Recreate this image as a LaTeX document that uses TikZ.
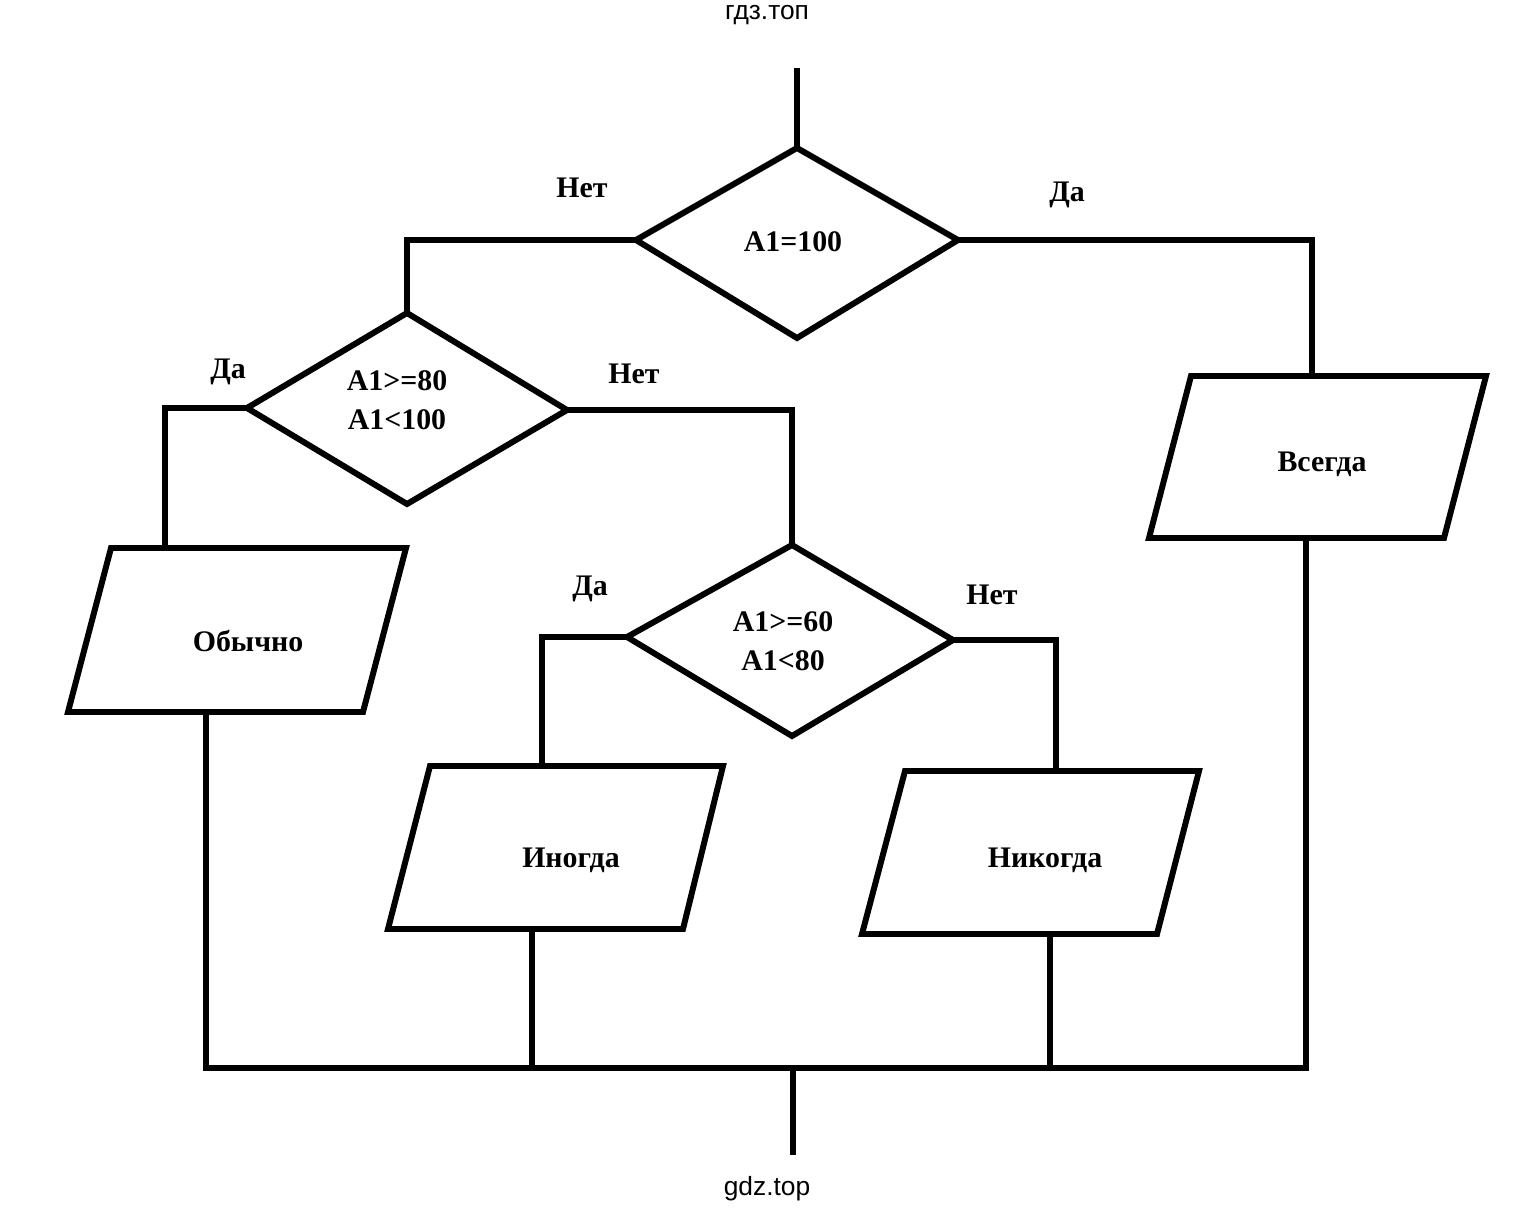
\documentclass[tikz,border=0pt]{standalone}
\usepackage{fontspec}
\setmainfont{Liberation Serif}
\newfontfamily\wm{Liberation Sans}
\begin{document}
\begin{tikzpicture}[x=0.02cm,y=-0.02cm,line width=3.4pt,line join=miter,
  lbl/.style={font=\bfseries\fontsize{17}{20}\selectfont,align=center,inner sep=0pt},
  wmk/.style={font=\wm\fontsize{15}{18}\selectfont,inner sep=0pt}]
\useasboundingbox (0,0) rectangle (1535,1214);
% diamond 1
\coordinate (d1t) at (797,148); \coordinate (d1l) at (636,240);
\coordinate (d1r) at (958,240); \coordinate (d1b) at (797,338);
\coordinate (start) at (797,68);
\draw (d1t)--(d1r)--(d1b)--(d1l)--cycle;
\node[lbl] (t1) at (793,242) {A1=100};
\draw (start)--(d1t);
% diamond 2
\coordinate (d2t) at (407,313); \coordinate (d2l) at (247,408);
\coordinate (d2r) at (567,410); \coordinate (d2b) at (407,504);
\draw (d2t)--(d2r)--(d2b)--(d2l)--cycle;
\node[lbl] (t2) at (397,400) {A1>=80\\[2pt]A1<100};
% diamond 3
\coordinate (d3t) at (792,545); \coordinate (d3l) at (627,637);
\coordinate (d3r) at (953,640); \coordinate (d3b) at (792,736);
\draw (d3t)--(d3r)--(d3b)--(d3l)--cycle;
\node[lbl] (t3) at (783,641) {A1>=60\\[2pt]A1<80};
% parallelograms
\coordinate (o1) at (111,548); \coordinate (o2) at (406,548); \coordinate (o3) at (363,712); \coordinate (o4) at (68,712);
\draw (o1)--(o2)--(o3)--(o4)--cycle; \node[lbl] (to) at (248,641) {Обычно};
\coordinate (i1) at (430,766); \coordinate (i2) at (723,766); \coordinate (i3) at (683,929); \coordinate (i4) at (388,929);
\draw (i1)--(i2)--(i3)--(i4)--cycle; \node[lbl] (ti) at (571,860) {Иногда};
\coordinate (n1) at (905,771); \coordinate (n2) at (1199,771); \coordinate (n3) at (1157,934); \coordinate (n4) at (862,934);
\draw (n1)--(n2)--(n3)--(n4)--cycle; \node[lbl] (tn) at (1045,860) {Никогда};
\coordinate (v1) at (1191,376); \coordinate (v2) at (1486,376); \coordinate (v3) at (1444,538); \coordinate (v4) at (1149,538);
\draw (v1)--(v2)--(v3)--(v4)--cycle; \node[lbl] (tv) at (1322,464) {Всегда};
% connectors
\coordinate (oT) at (165,548); \coordinate (iT) at (542,766); \coordinate (nT) at (1056,771); \coordinate (vT) at (1312,376);
\draw (d1l) -| (d2t);
\draw (d1r) -| (vT);
\draw (d2l) -| (oT);
\draw (d2r) -| (d3t);
\draw (d3l) -| (iT);
\draw (d3r) -| (nT);
\coordinate (ob) at (206,712); \coordinate (ib) at (532,929); \coordinate (nb) at (1050,934); \coordinate (vb) at (1306,538);
\coordinate (bl) at (206,1068); \coordinate (br) at (1306,1068);
\coordinate (bm) at (793,1068); \coordinate (end) at (793,1155);
\coordinate (bi) at (532,1068); \coordinate (bn) at (1050,1068);
\draw (ob)--(bl)--(br)--(vb);
\draw (ib)--(bi); \draw (nb)--(bn); \draw (bm)--(end);
% labels
\node[lbl] (l1) at (582,188) {Нет};
\node[lbl] (l2) at (1067,195) {Да};
\node[lbl] (l3) at (228,372) {Да};
\node[lbl] (l4) at (634,374) {Нет};
\node[lbl] (l5) at (590,589) {Да};
\node[lbl] (l6) at (992,595) {Нет};
\node[wmk] (w1) at (767,15) {гдз.топ};
\node[wmk] (w2) at (767,1189) {gdz.top};
\end{tikzpicture}
\end{document}
